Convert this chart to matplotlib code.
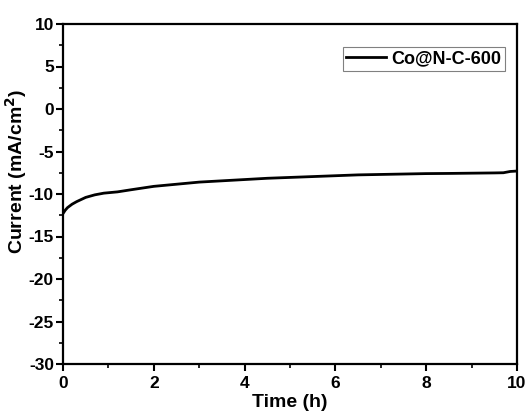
import matplotlib
matplotlib.use("Agg")
import matplotlib.pyplot as plt
from matplotlib.ticker import MultipleLocator

time_h = [0, 0.05, 0.1, 0.2, 0.3, 0.5, 0.7, 0.9, 1.0, 1.2, 1.5, 2.0, 2.5, 3.0,
          3.5, 4.0, 4.5, 5.0, 5.5, 6.0, 6.5, 7.0, 7.5, 8.0, 8.5, 9.0, 9.5, 9.7,
          9.85, 10.0]
current = [-12.3, -11.9, -11.6, -11.2, -10.9, -10.4, -10.1, -9.9, -9.85, -9.75,
           -9.5, -9.1, -8.85, -8.6, -8.45, -8.3, -8.15, -8.05, -7.95, -7.85,
           -7.75, -7.7, -7.65, -7.6, -7.58, -7.55, -7.52, -7.5, -7.35, -7.3]
series_label = "Co@N-C-600"

plt.rcParams['font.family'] = ['Liberation Sans', 'DejaVu Sans']
plt.rcParams['font.weight'] = 'bold'
plt.rcParams['axes.unicode_minus'] = False

fig = plt.figure(figsize=(5.28, 4.17), dpi=100)
ax = fig.add_axes([63/528, 1-364/417, (517-63)/528, (364-24)/417])
ax.plot(time_h, current, color='black', lw=2, label=series_label)

ax.set_xlim(0, 10)
ax.set_ylim(-30, 10)
ax.xaxis.set_major_locator(MultipleLocator(2))
ax.xaxis.set_minor_locator(MultipleLocator(1))
ax.yaxis.set_major_locator(MultipleLocator(5))
ax.yaxis.set_minor_locator(MultipleLocator(2.5))
ax.tick_params(which='major', direction='out', length=5, width=1.5, labelsize=12.5, pad=1.5)
ax.tick_params(axis='x', which='major', pad=3.5)
ax.tick_params(which='minor', direction='out', length=3, width=1.2)
for lab in ax.get_xticklabels() + ax.get_yticklabels():
    lab.set_fontweight('bold')
for s in ax.spines.values():
    s.set_linewidth(1.6)

ax.set_xlabel("Time (h)", fontsize=14, fontweight='bold', labelpad=2)
ax.set_ylabel("Current (mA/cm$^\\mathbf{2}$)", fontsize=14, fontweight='bold')
ax.yaxis.set_label_coords(-0.074, 0.565)

leg = ax.legend(loc='upper right', bbox_to_anchor=(0.974, 0.932), fancybox=False,
                edgecolor='#808080', framealpha=1, borderaxespad=0,
                prop={'weight': 'bold', 'size': 13}, handlelength=2.2,
                borderpad=0.2, handletextpad=0.3)
leg.get_frame().set_linewidth(0.8)

fig.savefig("out.png", dpi=100)
